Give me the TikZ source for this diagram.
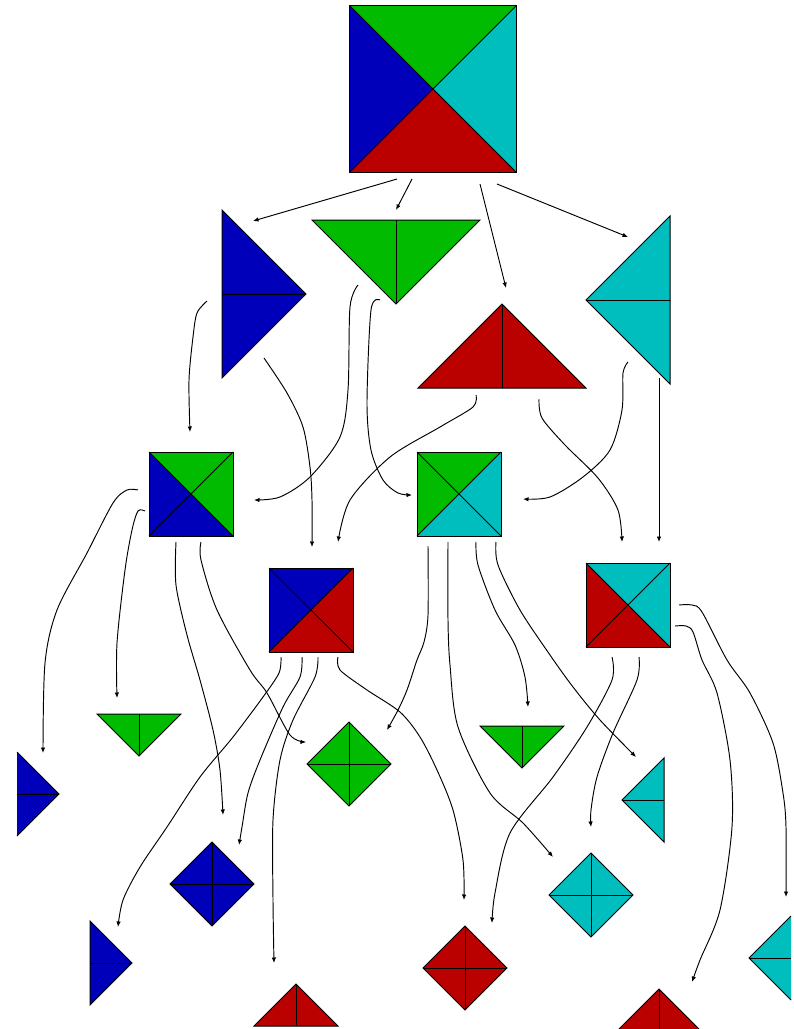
\documentclass[tikz,border=0pt]{standalone}
\usetikzlibrary{arrows.meta,calc}
\definecolor{cblue}{RGB}{0,0,187}
\definecolor{cgreen}{RGB}{0,187,0}
\definecolor{ccyan}{RGB}{0,190,190}
\definecolor{cred}{RGB}{187,0,0}
\tikzset{
  piece/.style args={#1x#2}{inner sep=0pt, outer sep=0pt, draw=none, minimum width=#1, minimum height=#2},
  outl/.style={draw=black, line width=1pt, line join=miter},
  edge/.style={draw=black, line width=0.95pt, -{Latex[length=5.5pt,width=4.5pt]}},
}
% square split in four triangles: name, left, top, right, bottom colours
\newcommand\tgSquare[5]{%
  \fill[#2] (#1.north west) -- (#1.center) -- (#1.south west) -- cycle;
  \fill[#3] (#1.north west) -- (#1.center) -- (#1.north east) -- cycle;
  \fill[#4] (#1.north east) -- (#1.center) -- (#1.south east) -- cycle;
  \fill[#5] (#1.south west) -- (#1.center) -- (#1.south east) -- cycle;
  \draw[outl] (#1.north west) rectangle (#1.south east);
  \draw[outl] (#1.north west) -- (#1.south east) (#1.south west) -- (#1.north east);
}
\newcommand\tgRight[2]{%
  \filldraw[fill=#2, outl] (#1.north west) -- (#1.east) -- (#1.south west) -- cycle;
  \draw[outl] (#1.west) -- (#1.east);
}
\newcommand\tgLeft[2]{%
  \filldraw[fill=#2, outl] (#1.north east) -- (#1.west) -- (#1.south east) -- cycle;
  \draw[outl] (#1.west) -- (#1.east);
}
\newcommand\tgDown[2]{%
  \filldraw[fill=#2, outl] (#1.north west) -- (#1.north east) -- (#1.south) -- cycle;
  \draw[outl] (#1.north) -- (#1.south);
}
\newcommand\tgUp[2]{%
  \filldraw[fill=#2, outl] (#1.south west) -- (#1.south east) -- (#1.north) -- cycle;
  \draw[outl] (#1.north) -- (#1.south);
}
\newcommand\tgDiamond[2]{%
  \filldraw[fill=#2, outl] (#1.north) -- (#1.east) -- (#1.south) -- (#1.west) -- cycle;
  \draw[outl] (#1.north) -- (#1.south) (#1.west) -- (#1.east);
}
\begin{document}
\begin{tikzpicture}[x=1pt, y=-1pt]
\useasboundingbox (0,0) rectangle (794,1029);
\clip (0,0) rectangle (794,1029);
\fill[white] (0,0) rectangle (794,1029);

% ---- nodes ----
\node[piece=167ptx167pt] (T) at (433,89) {};
\node[piece=84ptx168pt] (Bb) at (264,294) {};
\node[piece=168ptx84pt] (Gt) at (396,262) {};
\node[piece=168ptx84pt] (Rt) at (502,346) {};
\node[piece=84ptx168pt] (Ct) at (628,300) {};
\node[piece=84ptx84pt] (A) at (191,494) {};
\node[piece=84ptx84pt] (B) at (459,494) {};
\node[piece=84ptx84pt] (C) at (311,610) {};
\node[piece=84ptx84pt] (D) at (628,605) {};
\node[piece=42ptx84pt] (Pb) at (38,794) {};
\node[piece=84ptx42pt] (G1) at (139,735) {};
\node[piece=84ptx84pt] (Gd) at (349,764) {};
\node[piece=84ptx84pt] (Bd) at (212,884) {};
\node[piece=42ptx84pt] (Bs) at (111,963) {};
\node[piece=84ptx42pt] (Rb) at (296,1005) {};
\node[piece=84ptx42pt] (G2) at (522,747) {};
\node[piece=42ptx84pt] (Cs) at (643,800) {};
\node[piece=84ptx84pt] (Cd) at (591,895) {};
\node[piece=84ptx84pt] (Rd) at (465,968) {};
\node[piece=84ptx42pt] (Rb2) at (659,1010) {};
\node[piece=42ptx84pt] (Cp) at (770,958) {};

% ---- shapes ----
\tgSquare{T}{cblue}{cgreen}{ccyan}{cred}
\tgRight{Bb}{cblue}
\tgDown{Gt}{cgreen}
\tgUp{Rt}{cred}
\tgLeft{Ct}{ccyan}
\tgSquare{A}{cblue}{cgreen}{cgreen}{cblue}
\tgSquare{B}{cgreen}{cgreen}{ccyan}{ccyan}
\tgSquare{C}{cblue}{cblue}{cred}{cred}
\tgSquare{D}{cred}{ccyan}{ccyan}{cred}
% partial blue triangle at the left edge (no left outline)
\fill[cblue] (Pb.north west) -- (Pb.east) -- (Pb.south west) -- cycle;
\draw[outl] (Pb.north west) -- (Pb.east) -- (Pb.south west);
\draw[outl] (Pb.west) -- (Pb.east);
\tgDown{G1}{cgreen}
\tgDiamond{Gd}{cgreen}
\tgDiamond{Bd}{cblue}
\tgRight{Bs}{cblue}
\tgUp{Rb}{cred}
\tgDown{G2}{cgreen}
\tgLeft{Cs}{ccyan}
\tgDiamond{Cd}{ccyan}
\tgDiamond{Rd}{cred}
\tgUp{Rb2}{cred}
% partial cyan triangle at the right edge (no right outline)
\fill[ccyan] (Cp.north east) -- (Cp.west) -- (Cp.south east) -- cycle;
\draw[outl] (Cp.north east) -- (Cp.west) -- (Cp.south east);
\draw[outl] (Cp.west) -- (Cp.east);

% ---- connectors ----
\draw[edge] ($(T)+(-36,90)$) -- ($(Bb)+(-11,-73)$);
\draw[edge] ($(T)+(-21,90)$) -- ($(Gt)+(0,-52)$);
\draw[edge] ($(T)+(47,95)$) -- ($(Rt)+(4,-58)$);
\draw[edge] ($(T)+(64,95)$) -- ($(Ct)+(0,-63)$);

\draw[edge] plot[smooth] coordinates {($(Bb)+(-57,7)$) (197,313) (193,337) (189,380) ($(A)+(-1,-62)$)};
\draw[edge] plot[smooth] coordinates {($(Bb)+(0,64)$) (287,393) (303,427) (310,467) (312,500) ($(C)+(1,-63)$)};
\draw[edge] plot[smooth] coordinates {($(Gt)+(-38,23)$) (350,307) (348,390) (340,437) (310,477) (280,497) ($(A)+(63,6)$)};
\draw[edge] plot[smooth] coordinates {($(Gt)+(-16,38)$) (371,310) (367,403) (371,450) (383,480) (398,493) ($(B)+(-47,1)$)};
\draw[edge] plot[smooth] coordinates {($(Rt)+(-26,49)$) (473,407) (440,427) (390,457) (350,500) ($(C)+(27,-68)$)};
\draw[edge] plot[smooth] coordinates {($(Rt)+(37,53)$) (542,418) (565,445) (598,478) (618,510) ($(D)+(-6,-63)$)};
\draw[edge] plot[smooth] coordinates {($(Ct)+(0,62)$) (623,373) (622,410) (610,450) (583,477) (550,497) ($(B)+(64,5)$)};
\draw[edge] ($(Ct)+(31,78)$) -- ($(D)+(31,-63)$);

\draw[edge] plot[smooth] coordinates {($(A)+(-53,-4)$) (127,490) (113,503) (87,553) (57,610) (45,663) ($(Pb)+(5,-41)$)};
\draw[edge] plot[smooth] coordinates {($(A)+(-46,17)$) (138,511) (132,530) (125,570) (117,643) ($(G1)+(-22,-37)$)};
\draw[edge] plot[smooth] coordinates {($(A)+(-15,48)$) (176,585) (187,635) (200,680) (213,730) (220,770) ($(Bd)+(11,-69)$)};
\draw[edge] plot[smooth] coordinates {($(A)+(10,48)$) (201,560) (217,610) (250,670) (267,693) (290,735) ($(Gd)+(-43,-22)$)};

\draw[edge] plot[smooth] coordinates {($(C)+(-30,47)$) (279,673) (263,697) (233,737) (200,777) (167,827) (140,867) (123,900) ($(Bs)+(7,-36)$)};
\draw[edge] plot[smooth] coordinates {($(C)+(-9,47)$) (300,677) (283,707) (260,760) (248,793) (242,827) ($(Bd)+(27,-39)$)};
\draw[edge] plot[smooth] coordinates {($(C)+(7,47)$) (315,677) (293,720) (280,760) (273,820) (273,900) ($(Rb)+(-22,-42)$)};
\draw[edge] plot[smooth] coordinates {($(C)+(27,47)$) (340,670) (367,690) (400,712) (420,737) (437,770) (453,810) (463,860) ($(Rd)+(-1,-68)$)};

\draw[edge] plot[smooth] coordinates {($(B)+(-31,52)$) (428,615) (424,642) (417,660) (407,690) (398,710) ($(Gd)+(38,-34)$)};
\draw[edge] plot[smooth] coordinates {($(B)+(-11,48)$) (448,620) (450,665) (458,727) (490,793) (523,823) ($(Cd)+(-38,-38)$)};
\draw[edge] plot[smooth] coordinates {($(B)+(17,48)$) (478,565) (495,610) (515,645) (525,677) ($(G2)+(6,-40)$)};
\draw[edge] plot[smooth] coordinates {($(B)+(37,48)$) (498,565) (520,610) (550,655) (573,687) (600,720) ($(Cs)+(-7,-43)$)};

\draw[edge] plot[smooth] coordinates {($(D)+(-16,52)$) (612,680) (587,727) (553,777) (510,833) (495,893) ($(Rd)+(27,-45)$)};
\draw[edge] plot[smooth] coordinates {($(D)+(11,52)$) (637,680) (613,733) (597,777) (591,810) ($(Cd)+(0,-68)$)};
\draw[edge] plot[smooth] coordinates {($(D)+(51,0)$) (692,605) (702,612) (727,660) (750,693) (773,743) (783,793) (786,827) ($(Cp)+(16,-61)$)};
\draw[edge] plot[smooth] coordinates {($(D)+(47,21)$) (686,626) (693,632) (702,660) (717,693) (730,760) (732,827) (720,910) (700,960) ($(Rb2)+(33,-28)$)};
\end{tikzpicture}
\end{document}
